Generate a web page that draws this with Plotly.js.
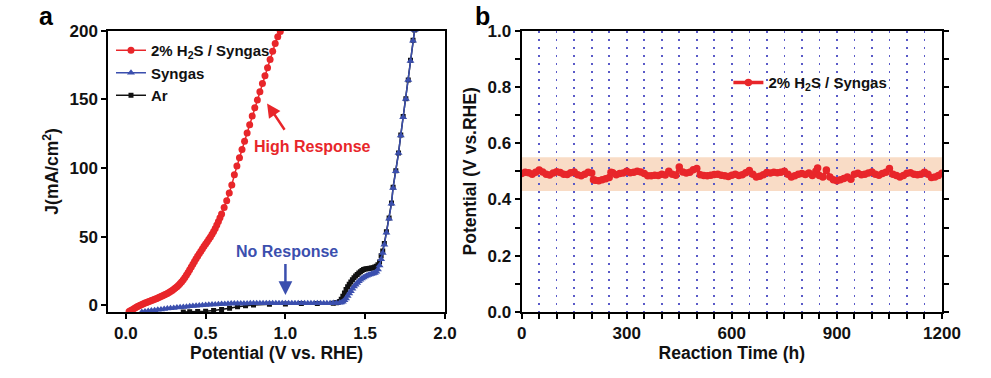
<!DOCTYPE html>
<html>
<head>
<meta charset="utf-8">
<script src="https://cdn.plot.ly/plotly-3.0.1.min.js"></script>
<style>html,body{margin:0;padding:0;background:#fff;}#chart{width:991px;height:378px;}</style>
</head>
<body>
<div id="chart"></div>
<script>
// ---- Panel a: LSV curves ----
const h2sX = [0.02,0.03,0.04,0.05,0.06,0.07,0.08,0.09,0.10,0.11,0.12,0.13,0.14,0.15,0.16,0.17,0.18,0.19,0.20,0.21,0.22,0.23,0.24,0.25,0.26,0.27,0.28,0.29,0.30,0.31,0.32,0.33,0.34,0.35,0.36,0.37,0.38,0.39,0.40,0.41,0.42,0.43,0.44,0.45,0.46,0.47,0.48,0.49,0.50,0.51,0.52,0.53,0.54,0.55,0.56,0.57,0.58,0.59,0.60,0.616,0.632,0.648,0.664,0.68,0.696,0.712,0.728,0.744,0.76,0.776,0.792,0.808,0.824,0.84,0.856,0.872,0.888,0.904,0.92,0.936,0.952,0.968,0.984];
const h2sY = [-4.5,-3.8,-3.2,-2.5,-1.8,-1.1,-0.5,0.1,0.6,1.1,1.6,2.05,2.5,2.95,3.4,3.85,4.3,4.8,5.3,5.8,6.3,6.85,7.4,8.0,8.6,9.3,10.0,10.8,11.6,12.5,13.5,14.6,15.8,17.1,18.6,20.2,22.0,23.9,25.8,27.8,29.8,31.8,33.8,35.7,37.6,39.4,41.2,42.9,44.6,46.3,48.0,49.8,51.8,53.8,56.0,58.4,61.0,63.7,66.5,71.2,76.2,81.8,87.6,95.0,101.5,107.5,113.5,119.5,125.5,131.5,137.8,143.8,149.5,155.5,161.6,167.2,173.0,179.0,185.0,190.6,195.5,199.5,205.0];

const syngasX = [0.10,0.12,0.14,0.16,0.18,0.20,0.22,0.24,0.26,0.28,0.30,0.32,0.34,0.36,0.38,0.40,0.42,0.44,0.46,0.48,0.50,0.52,0.54,0.56,0.58,0.60,0.62,0.64,0.66,0.68,0.70,0.72,0.74,0.76,0.78,0.80,0.82,0.84,0.86,0.88,0.90,0.92,0.94,0.96,0.98,1.00,1.02,1.04,1.06,1.08,1.10,1.12,1.14,1.16,1.18,1.20,1.22,1.24,1.26,1.28,1.30,1.32,1.34,1.35,1.36,1.37,1.38,1.39,1.40,1.41,1.42,1.43,1.44,1.45,1.46,1.47,1.48,1.49,1.50,1.51,1.52,1.53,1.54,1.55,1.56,1.57,1.58,1.59,1.60,1.61,1.62,1.633,1.65,1.665,1.675,1.692,1.709,1.723,1.738,1.755,1.77,1.784,1.80,1.81];
const syngasY = [-4.9,-4.5,-4.2,-3.9,-3.6,-3.3,-3.0,-2.7,-2.4,-2.1,-1.9,-1.6,-1.4,-1.2,-1.0,-0.8,-0.6,-0.4,-0.2,0.0,0.2,0.35,0.5,0.65,0.8,0.9,1.0,1.1,1.2,1.25,1.3,1.3,1.3,1.35,1.4,1.4,1.4,1.4,1.4,1.45,1.5,1.5,1.5,1.5,1.5,1.5,1.5,1.5,1.5,1.5,1.5,1.5,1.5,1.5,1.5,1.5,1.5,1.5,1.5,1.55,1.6,1.7,1.8,2.1,2.5,3.6,5.0,6.7,8.5,10.3,12.0,13.6,15.0,16.3,17.5,18.6,19.5,20.3,21.0,21.5,22.0,22.4,22.8,23.1,23.5,24.4,26.0,29.0,33.5,38.0,44.0,52.8,63.0,74.0,85.5,97.6,110.9,123.7,137.0,150.3,164.0,178.0,192.7,200.5];

const arX = [0.36,0.40,0.45,0.50,0.55,0.60,0.65,0.70,0.75,0.80,0.90,1.00,1.10,1.20,1.30,1.32,1.33,1.34,1.35,1.36,1.37,1.38,1.39,1.40,1.41,1.42,1.43,1.44,1.45,1.46,1.47,1.48,1.49,1.50,1.51,1.52,1.53,1.54,1.55,1.56,1.57,1.58,1.59,1.60,1.61,1.62,1.633,1.65,1.665,1.675,1.692,1.709,1.723,1.738,1.755,1.77,1.784,1.80,1.81];
const arY = [-4.9,-4.8,-4.6,-4.3,-3.8,-3.1,-2.2,-1.0,-0.3,0.2,0.7,1.0,1.2,1.3,1.5,1.8,2.0,2.8,4.4,6.6,9.0,11.4,13.5,15.4,17.0,18.6,20.0,21.3,22.5,23.5,24.5,25.3,26.0,26.4,26.6,26.8,27.0,27.2,27.4,27.8,28.5,29.5,31.5,36.0,39.5,45.0,53.5,63.5,74.5,86.0,98.0,111.0,124.0,137.5,150.5,164.0,178.5,193.0,200.5];

// ---- Panel b: stability test ----
const timeH = [0,10,20,30,40,50,60,70,80,90,100,110,120,130,140,150,160,170,180,190,200,202,205,210,220,230,240,250,255,260,270,280,290,300,310,320,330,340,350,360,370,380,390,400,410,420,430,440,450,460,470,480,490,500,510,520,530,540,550,560,570,580,590,600,610,620,630,640,650,660,670,680,690,700,710,720,730,740,750,760,770,780,790,800,810,820,830,840,845,850,860,870,880,890,900,910,920,930,940,950,960,970,980,990,1000,1010,1020,1030,1040,1050,1060,1070,1080,1090,1100,1110,1120,1130,1140,1150,1160,1170,1180,1190,1200];
const potentialV = [0.492,0.497,0.495,0.490,0.497,0.505,0.498,0.490,0.487,0.494,0.499,0.496,0.490,0.489,0.495,0.498,0.488,0.484,0.490,0.497,0.494,null,0.470,0.468,0.467,0.470,0.474,0.478,0.497,0.495,0.488,0.492,0.494,0.500,0.495,0.497,0.500,0.498,0.492,0.484,0.484,0.486,0.485,0.490,0.487,0.500,0.490,0.486,0.515,0.498,0.494,0.497,0.506,0.510,0.488,0.485,0.484,0.486,0.489,0.490,0.486,0.484,0.482,0.486,0.490,0.485,0.488,0.495,0.503,0.490,0.480,0.483,0.488,0.496,0.494,0.497,0.495,0.497,0.500,0.490,0.480,0.484,0.490,0.492,0.489,0.494,0.485,0.500,0.512,0.485,0.480,0.505,0.480,0.470,0.467,0.470,0.475,0.480,0.472,0.490,0.493,0.488,0.490,0.494,0.498,0.490,0.486,0.492,0.497,0.510,0.490,0.485,0.480,0.485,0.493,0.495,0.490,0.488,0.490,0.497,0.490,0.478,0.480,0.485,0.493];
const bandLow = 0.43, bandHigh = 0.55;

const FONT = 'Liberation Sans, Arial, sans-serif';
const RED = '#e8262a', BLUE = '#3b4fae', BLACK = '#111111';

const traces = [
  {x: arX, y: arY, name: 'Ar', mode: 'lines+markers', xaxis: 'x', yaxis: 'y', legend: 'legend',
   line: {color: BLACK, width: 1.5}, marker: {symbol: 'square', size: 5, color: BLACK}, legendrank: 3},
  {x: syngasX, y: syngasY, name: 'Syngas', mode: 'lines+markers', xaxis: 'x', yaxis: 'y', legend: 'legend',
   line: {color: BLUE, width: 1.5}, marker: {symbol: 'triangle-up', size: 7, color: BLUE}, legendrank: 2},
  {x: h2sX, y: h2sY, name: '2% H<sub>2</sub>S / Syngas', mode: 'lines+markers', xaxis: 'x', yaxis: 'y', legend: 'legend',
   line: {color: RED, width: 1.5}, marker: {symbol: 'circle', size: 7, color: RED}, legendrank: 1},
  {x: timeH, y: potentialV, name: '2% H<sub>2</sub>S / Syngas', mode: 'lines+markers', xaxis: 'x2', yaxis: 'y2', legend: 'legend2',
   line: {color: RED, width: 3.5}, marker: {symbol: 'circle', size: 7.5, color: RED}, connectgaps: false}
];

const axisCommon = {
  showline: true, linecolor: '#000', linewidth: 2, mirror: true,
  ticks: 'outside', ticklen: 5, tickwidth: 2, tickcolor: '#000',
  showgrid: false, zeroline: false,
  tickfont: {family: FONT, size: 17, color: '#111', weight: 'bold'}
};
const titleFont = {family: FONT, size: 17.5, color: '#111', weight: 'bold'};
const gridDot = {griddash: '2px,6px', gridcolor: '#5a5ac8', gridwidth: 1.6};

const layout = {
  width: 991, height: 378,
  margin: {l: 0, r: 0, t: 0, b: 0},
  paper_bgcolor: '#fff', plot_bgcolor: '#fff',
  showlegend: true,
  font: {family: FONT},
  xaxis: Object.assign({}, axisCommon, {
    domain: [0.1093, 0.449], range: [-0.11, 2.0], dtick: 0.5, tick0: 0, tickformat: '.1f',
    anchor: 'y', title: {text: 'Potential (V vs. RHE)', font: titleFont, standoff: 4}
  }),
  yaxis: Object.assign({}, axisCommon, {
    domain: [0.1746, 0.9188], range: [-4.9, 200], dtick: 50, tick0: 0,
    anchor: 'x', title: {text: 'J(mA/cm<sup>2</sup>)', font: titleFont, standoff: 6}
  }),
  xaxis2: Object.assign({}, axisCommon, {
    domain: [0.5264, 0.9505], range: [0, 1200], dtick: 300, tick0: 0,
    anchor: 'y2', showgrid: true, griddash: gridDot.griddash, gridcolor: gridDot.gridcolor, gridwidth: gridDot.gridwidth,
    minor: {dtick: 50, ticks: 'outside', ticklen: 5, tickwidth: 2, tickcolor: '#000', showgrid: true,
            griddash: gridDot.griddash, gridcolor: gridDot.gridcolor, gridwidth: gridDot.gridwidth},
    title: {text: 'Reaction Time (h)', font: titleFont, standoff: 4}
  }),
  yaxis2: Object.assign({}, axisCommon, {
    domain: [0.1746, 0.9188], range: [0, 1.0], dtick: 0.2, tick0: 0, tickformat: '.1f', mirror: 'ticks',
    minor: {dtick: 0.1, ticks: 'outside', ticklen: 5, tickwidth: 2, tickcolor: '#000'},
    anchor: 'x2', title: {text: 'Potential (V vs.RHE)', font: titleFont, standoff: 6}
  }),
  legend: {
    x: 0.112, y: 0.91, xanchor: 'left', yanchor: 'top', bgcolor: 'rgba(0,0,0,0)',
    font: {family: FONT, size: 15, color: '#111', weight: 'bold'}, itemwidth: 30, tracegroupgap: 0,
    traceorder: 'normal'
  },
  legend2: {
    x: 0.735, y: 0.825, xanchor: 'left', yanchor: 'top', bgcolor: 'rgba(0,0,0,0)',
    font: {family: FONT, size: 15, color: '#111', weight: 'bold'}, itemwidth: 30
  },
  shapes: [
    {type: 'rect', xref: 'x2 domain', yref: 'y2', x0: 0, x1: 1, y0: bandLow, y1: bandHigh,
     fillcolor: '#f9dcc6', line: {width: 0}, layer: 'below'}
  ],
  annotations: [
    {xref: 'paper', yref: 'paper', x: 0.037, y: 1.0, xanchor: 'left', yanchor: 'top', showarrow: false,
     text: 'a', font: {family: FONT, size: 25, color: '#000', weight: 'bold'}},
    {xref: 'paper', yref: 'paper', x: 0.477, y: 1.0, xanchor: 'left', yanchor: 'top', showarrow: false,
     text: 'b', font: {family: FONT, size: 25, color: '#000', weight: 'bold'}},
    {xref: 'x', yref: 'y', x: 1.168, y: 115.4, showarrow: false, text: 'High Response',
     font: {family: FONT, size: 16, color: RED, weight: 'bold'}},
    {xref: 'x', yref: 'y', x: 0.885, y: 147, ax: 18, ay: 27, text: ' ', showarrow: true, borderpad: 0,
     font: {size: 1}, arrowhead: 2, arrowsize: 1.1, arrowwidth: 2.5, arrowcolor: RED},
    {xref: 'x', yref: 'y', x: 1.01, y: 39.4, showarrow: false, text: 'No Response',
     font: {family: FONT, size: 16, color: BLUE, weight: 'bold'}},
    {xref: 'x', yref: 'y', x: 1.0, y: 7.5, ax: 0, ay: -32, text: ' ', showarrow: true, borderpad: 0,
     font: {size: 1}, arrowhead: 2, arrowsize: 1.1, arrowwidth: 2.5, arrowcolor: BLUE}
  ]
};

Plotly.newPlot('chart', traces, layout, {staticPlot: true, displayModeBar: false});
</script>
</body>
</html>
